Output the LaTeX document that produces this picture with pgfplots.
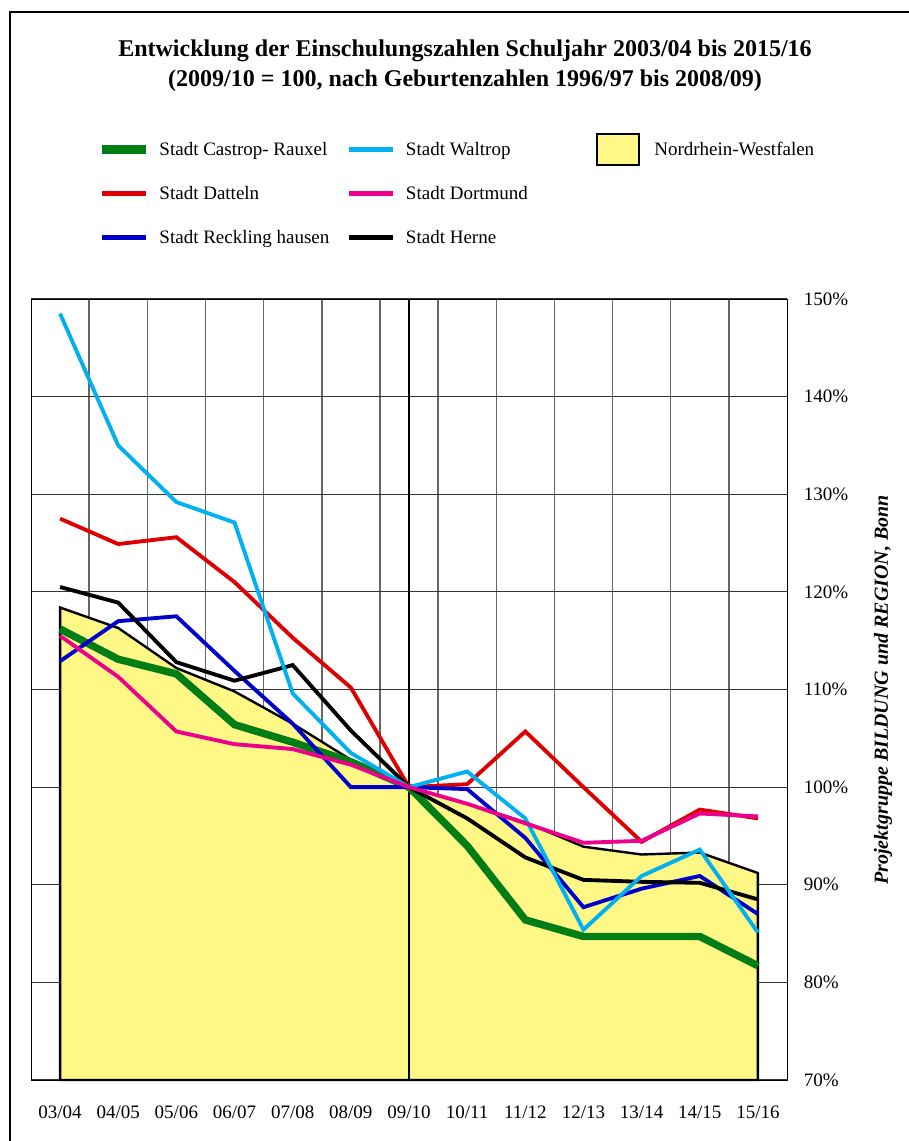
\documentclass[border=0pt]{standalone}
\usepackage{fontspec}
\setmainfont{Liberation Serif}
\usepackage{pgfplots}
\pgfplotsset{compat=1.18}
\definecolor{cgreen}{RGB}{0,125,20}
\definecolor{ccyan}{RGB}{0,176,240}
\definecolor{cred}{RGB}{222,0,0}
\definecolor{cpink}{RGB}{236,0,140}
\definecolor{cblue}{RGB}{0,0,204}
\definecolor{nrw}{RGB}{255,248,135}
\begin{document}
\begin{tikzpicture}
\useasboundingbox (0,0) rectangle (681.75pt,-855.75pt);
\draw[line width=1.6pt] (7.5pt,-9pt) rectangle (700pt,-880pt);
\node[font=\fontsize{18}{21}\selectfont\bfseries] at (348.75pt,-38pt) {Entwicklung der Einschulungszahlen Schuljahr 2003/04 bis 2015/16};
\node[font=\fontsize{18}{21}\selectfont\bfseries] at (348.75pt,-60.5pt) {(2009/10 = 100, nach Geburtenzahlen 1996/97 bis 2008/09)};
\node[rotate=90, font=\fontsize{15}{18}\selectfont\bfseries\itshape] at (662.25pt,-517.5pt) {Projektgruppe BILDUNG und REGION, Bonn};
\begin{axis}[
  at={(23.25pt,-810pt)}, anchor=south west,
  scale only axis, width=567pt, height=585.75pt,
  xmin=-0.5, xmax=12.5, ymin=70, ymax=150,
  clip=false,
  xtick={0,...,12},
  xticklabels={03/04,04/05,05/06,06/07,07/08,08/09,09/10,10/11,11/12,12/13,13/14,14/15,15/16},
  minor xtick={0.5,1.5,...,11.5},
  xminorgrids=true,
  ytick={70,80,...,150},
  yticklabels={70\%,80\%,90\%,100\%,110\%,120\%,130\%,140\%,150\%},
  ymajorgrids=true,
  yticklabel pos=right,
  major tick length=0pt, minor tick length=0pt,
  major grid style={black!80, line width=0.8pt},
  minor grid style={black!60, line width=1.1pt},
  axis line style={black, line width=0.7pt},
  tick label style={font=\fontsize{14.25}{16}\selectfont},
  xticklabel style={inner sep=0pt, anchor=north, yshift=-19pt},
  yticklabel style={inner sep=0pt, anchor=west, xshift=12.5pt},
  legend style={at={(axis description cs:0.0886,1.2036)}, anchor=north west, draw=none, fill=none,
    inner sep=0pt, outer sep=0pt, row sep=19pt, column sep=0pt,
    nodes={inner sep=0pt, text height=11.5pt, text depth=2.5pt},
    font=\fontsize{14.25}{16}\selectfont, cells={anchor=west}},
  legend columns=3,
]
% NRW area
\addplot[fill=nrw, draw=black, line width=1.8pt, forget plot] coordinates {
(0,70) (0,118.4) (1,116.3) (2,112.2) (3,109.8) (4,106.5) (5,102.8) (6,100) (7,98.3) (8,96.4) (9,93.9) (10,93.1) (11,93.3) (12,91.2) (12,70)} -- cycle;
\addplot[black, line width=0.8pt, forget plot] coordinates {(6,70) (6,150)};
% Castrop-Rauxel
\addplot[cgreen, line width=5.6pt, forget plot] coordinates {
(0,116.2) (1,113.1) (2,111.6) (3,106.4) (4,104.6) (5,102.6) (6,100) (7,94.0) (8,86.4) (9,84.7) (10,84.7) (11,84.7) (12,81.7)};
% Datteln
\addplot[cred, line width=2.9pt, forget plot] coordinates {
(0,127.5) (1,124.9) (2,125.6) (3,121.0) (4,115.3) (5,110.2) (6,100) (7,100.3) (8,105.7) (9,100.0) (10,94.4) (11,97.7) (12,96.8)};
% Recklinghausen
\addplot[cblue, line width=2.9pt, forget plot] coordinates {
(0,112.9) (1,117.0) (2,117.5) (3,111.9) (4,106.5) (5,100.0) (6,100) (7,99.8) (8,94.8) (9,87.7) (10,89.6) (11,90.9) (12,87.0)};
% Herne
\addplot[black, line width=2.9pt, forget plot] coordinates {
(0,120.5) (1,118.9) (2,112.8) (3,110.9) (4,112.5) (5,105.8) (6,100) (7,96.8) (8,92.8) (9,90.5) (10,90.3) (11,90.2) (12,88.5)};
% Waltrop
\addplot[ccyan, line width=2.9pt, forget plot] coordinates {
(0,148.5) (1,135.0) (2,129.2) (3,127.1) (4,109.6) (5,103.5) (6,100) (7,101.6) (8,96.8) (9,85.4) (10,90.9) (11,93.6) (12,85.1)};
% Dortmund
\addplot[cpink, line width=2.9pt, forget plot] coordinates {
(0,115.5) (1,111.3) (2,105.7) (3,104.4) (4,103.9) (5,102.3) (6,100) (7,98.3) (8,96.3) (9,94.3) (10,94.5) (11,97.3) (12,97.0)};
% legend (row-major)
\addlegendimage{legend image code/.code={\draw[cgreen, line width=6.75pt] (0pt,0pt) -- (33pt,0pt); \path[draw=none] (0pt,0pt) -- (42.75pt,0pt);}}
\addlegendentry{\makebox[140pt][l]{Stadt Castrop- Rauxel}}
\addlegendimage{legend image code/.code={\draw[ccyan, line width=4.25pt] (0pt,0pt) -- (33pt,0pt); \path[draw=none] (0pt,0pt) -- (42.75pt,0pt);}}
\addlegendentry{\makebox[143.5pt][l]{Stadt Waltrop}}
\addlegendimage{legend image code/.code={\draw[overlay, fill=nrw, draw=black, line width=1.6pt] (0pt,-11.6pt) rectangle (31.5pt,11.6pt); \path[draw=none] (0pt,0pt) -- (42.75pt,0pt);}}
\addlegendentry{Nordrhein-Westfalen}
\addlegendimage{legend image code/.code={\draw[cred, line width=4.25pt] (0pt,0pt) -- (33pt,0pt); \path[draw=none] (0pt,0pt) -- (42.75pt,0pt);}}
\addlegendentry{\makebox[140pt][l]{Stadt Datteln}}
\addlegendimage{legend image code/.code={\draw[cpink, line width=4.25pt] (0pt,0pt) -- (33pt,0pt); \path[draw=none] (0pt,0pt) -- (42.75pt,0pt);}}
\addlegendentry{\makebox[143.5pt][l]{Stadt Dortmund}}
\addlegendimage{legend image code/.code={\path[draw=none] (0pt,0pt) -- (42.75pt,0pt);}}
\addlegendentry{}
\addlegendimage{legend image code/.code={\draw[cblue, line width=4.25pt] (0pt,0pt) -- (33pt,0pt); \path[draw=none] (0pt,0pt) -- (42.75pt,0pt);}}
\addlegendentry{\makebox[140pt][l]{Stadt Reckling hausen}}
\addlegendimage{legend image code/.code={\draw[black, line width=4.25pt] (0pt,0pt) -- (33pt,0pt); \path[draw=none] (0pt,0pt) -- (42.75pt,0pt);}}
\addlegendentry{\makebox[143.5pt][l]{Stadt Herne}}
\end{axis}
\end{tikzpicture}
\end{document}
